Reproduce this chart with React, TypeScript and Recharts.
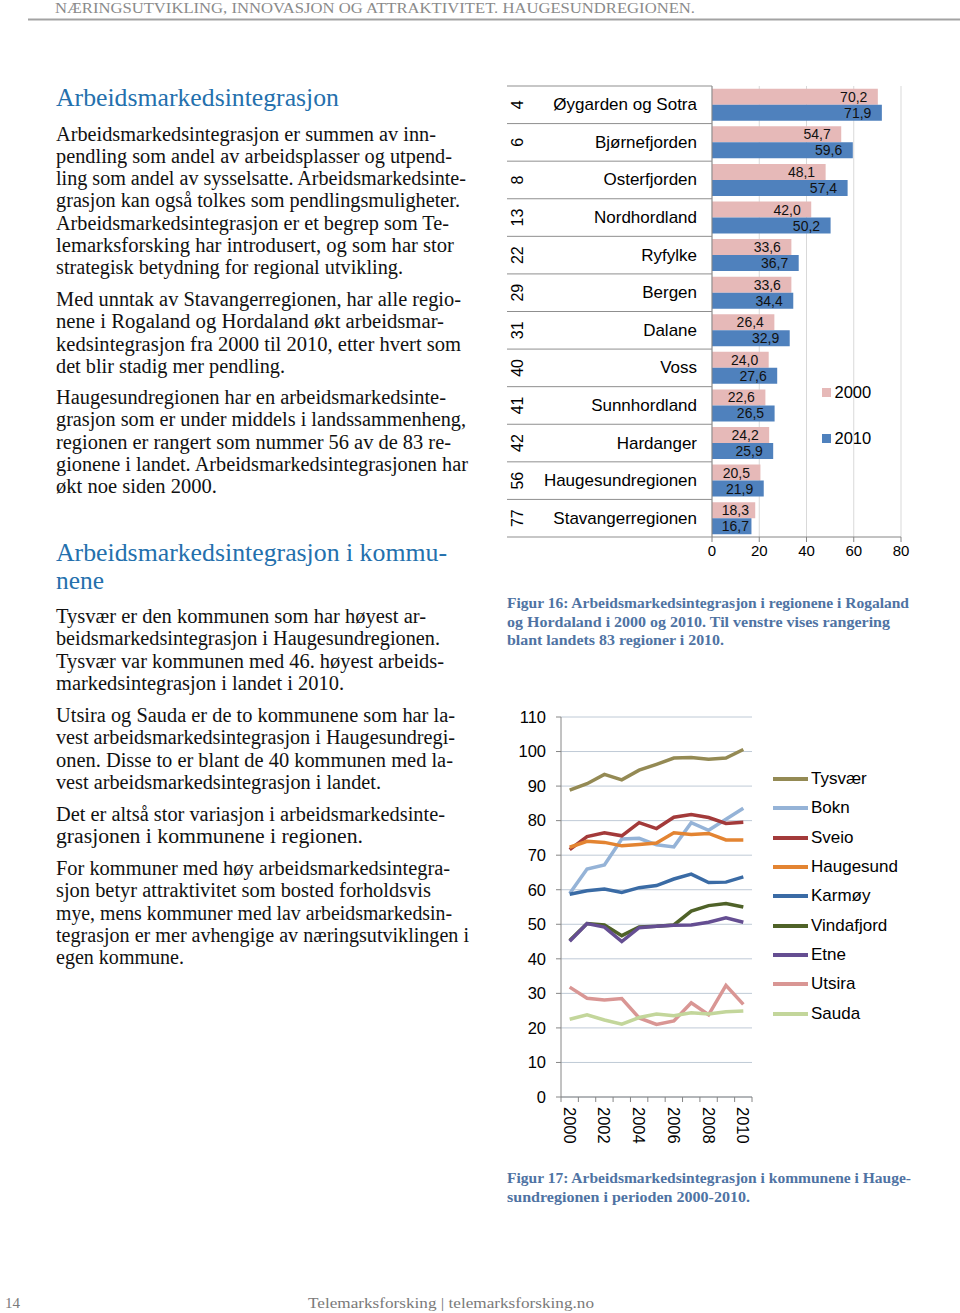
import React from "react";
import {
  BarChart,
  Bar,
  XAxis,
  YAxis,
  CartesianGrid,
  LabelList,
  Legend,
  LineChart,
  Line,
} from "recharts";

// ---------- Figure 16 data ----------
const regionNames = [
  "Øygarden og Sotra",
  "Bjørnefjorden",
  "Osterfjorden",
  "Nordhordland",
  "Ryfylke",
  "Bergen",
  "Dalane",
  "Voss",
  "Sunnhordland",
  "Hardanger",
  "Haugesundregionen",
  "Stavangerregionen",
];
const regionRanks = [4, 6, 8, 13, 22, 29, 31, 40, 41, 42, 56, 77];
const values2000 = [70.2, 54.7, 48.1, 42.0, 33.6, 33.6, 26.4, 24.0, 22.6, 24.2, 20.5, 18.3];
const values2010 = [71.9, 59.6, 57.4, 50.2, 36.7, 34.4, 32.9, 27.6, 26.5, 25.9, 21.9, 16.7];
const barTicks = [0, 20, 40, 60, 80];

// ---------- Figure 17 data ----------
const years = [2000, 2001, 2002, 2003, 2004, 2005, 2006, 2007, 2008, 2009, 2010];
const tysvaer = [88.8, 90.7, 93.4, 91.8, 94.6, 96.3, 98.1, 98.3, 97.8, 98.1, 100.6];
const bokn = [58.9, 66.0, 67.2, 74.7, 74.9, 73.0, 72.4, 79.4, 77.2, 80.4, 83.6];
const sveio = [71.6, 75.4, 76.5, 75.6, 79.4, 77.7, 81.0, 81.8, 80.9, 79.2, 79.5];
const haugesund = [72.3, 74.0, 73.7, 72.7, 73.1, 73.5, 76.5, 76.0, 76.3, 74.4, 74.4];
const karmoy = [58.7, 59.7, 60.2, 59.2, 60.6, 61.2, 63.1, 64.5, 62.1, 62.2, 63.7];
const vindafjord = [45.3, 50.2, 49.8, 46.7, 49.2, 49.4, 49.8, 53.8, 55.4, 56.0, 55.0];
const etne = [45.1, 50.2, 49.2, 45.0, 49.0, 49.4, 49.7, 49.8, 50.6, 51.9, 50.6];
const utsira = [31.8, 28.6, 28.1, 28.5, 22.9, 21.0, 22.0, 27.3, 23.8, 32.3, 26.8];
const sauda = [22.5, 23.8, 22.3, 21.1, 23.0, 24.0, 23.5, 24.4, 24.0, 24.7, 24.9];
const lineTicks = [0, 10, 20, 30, 40, 50, 60, 70, 80, 90, 100, 110];

const seriesDefs = [
  { key: "Tysvær", values: tysvaer, color: "#948A54" },
  { key: "Bokn", values: bokn, color: "#95B3D7" },
  { key: "Sveio", values: sveio, color: "#A33A3A" },
  { key: "Haugesund", values: haugesund, color: "#E38432" },
  { key: "Karmøy", values: karmoy, color: "#3A6BA5" },
  { key: "Vindafjord", values: vindafjord, color: "#4F6228" },
  { key: "Etne", values: etne, color: "#654E92" },
  { key: "Utsira", values: utsira, color: "#D99694" },
  { key: "Sauda", values: sauda, color: "#C3D69B" },
];
const seriesOrder = seriesDefs.map((s) => s.key);

const barData = regionNames.map((name, i) => ({
  name,
  v2000: values2000[i],
  v2010: values2010[i],
}));

const lineData = years.map((year, i) => {
  const row: any = { year };
  seriesDefs.forEach((s) => (row[s.key] = s.values[i]));
  return row;
});

// ---------- page text ----------
const headerText = "NÆRINGSUTVIKLING, INNOVASJON OG ATTRAKTIVITET. HAUGESUNDREGIONEN.";
const heading1 = "Arbeidsmarkedsintegrasjon";
const heading2 = ["Arbeidsmarkedsintegrasjon i kommu-", "nene"];

type Para = { y: number; lines: [string, number][] };
const paragraphs: Para[] = [
  {
    y: 140.5,
    lines: [
      ["Arbeidsmarkedsintegrasjon er summen av inn-", 436],
      ["pendling som andel av arbeidsplasser og utpend-", 452],
      ["ling som andel av sysselsatte. Arbeidsmarkedsinte-", 466],
      ["grasjon kan også tolkes som pendlingsmuligheter.", 460],
      ["Arbeidsmarkedsintegrasjon er et begrep som Te-", 449],
      ["lemarksforsking har introdusert, og som har stor", 454],
      ["strategisk betydning for regional utvikling.", 403],
    ],
  },
  {
    y: 306,
    lines: [
      ["Med unntak av Stavangerregionen, har alle regio-", 461],
      ["nene i Rogaland og Hordaland økt arbeidsmar-", 444],
      ["kedsintegrasjon fra 2000 til 2010, etter hvert som", 461],
      ["det blir stadig mer pendling.", 285],
    ],
  },
  {
    y: 404,
    lines: [
      ["Haugesundregionen har en arbeidsmarkedsinte-", 446],
      ["grasjon som er under middels i landssammenheng,", 466],
      ["regionen er rangert som nummer 56 av de 83 re-", 451],
      ["gionene i landet. Arbeidsmarkedsintegrasjonen har", 468],
      ["økt noe siden 2000.", 217],
    ],
  },
  {
    y: 623,
    lines: [
      ["Tysvær er den kommunen som har høyest ar-", 426],
      ["beidsmarkedsintegrasjon i Haugesundregionen.", 440],
      ["Tysvær var kommunen med 46. høyest arbeids-", 444],
      ["markedsintegrasjon i landet i 2010.", 344],
    ],
  },
  {
    y: 722,
    lines: [
      ["Utsira og Sauda er de to kommunene som har la-", 455],
      ["vest arbeidsmarkedsintegrasjon i Haugesundregi-", 455],
      ["onen. Disse to er blant de 40 kommunen med la-", 453],
      ["vest arbeidsmarkedsintegrasjon i landet.", 381],
    ],
  },
  {
    y: 821,
    lines: [
      ["Det er altså stor variasjon i arbeidsmarkedsinte-", 445],
      ["grasjonen i kommunene i regionen.", 363],
    ],
  },
  {
    y: 875,
    lines: [
      ["For kommuner med høy arbeidsmarkedsintegra-", 450],
      ["sjon betyr attraktivitet som bosted forholdsvis", 431],
      ["mye, mens kommuner med lav arbeidsmarkedsin-", 452],
      ["tegrasjon er mer avhengige av næringsutviklingen i", 469],
      ["egen kommune.", 184],
    ],
  },
];

const caption16: [string, number][] = [
  ["Figur 16: Arbeidsmarkedsintegrasjon i regionene i Rogaland", 909],
  ["og Hordaland i 2000 og 2010. Til venstre vises rangering", 890],
  ["blant landets 83 regioner i 2010.", 724],
];
const caption17: [string, number][] = [
  ["Figur 17: Arbeidsmarkedsintegrasjon i kommunene i Hauge-", 911],
  ["sundregionen i perioden 2000-2010.", 750],
];

const SERIF = "'Liberation Serif', 'DejaVu Serif', serif";
const SANS = "'Liberation Sans', Arial, sans-serif";
const LINE_GAP = 22.3;
const TEXT_X = 56;

const fmt = (v: number) => v.toFixed(1).replace(".", ",");

// ---------- Figure 16 geometry ----------
const B_W = 440;
const B_H = 495;
const B_MARGIN = { top: 6, right: 39, bottom: 0, left: 7 };
const B_YAXIS_W = 205;
const B_XAXIS_H = 38;
const B_PLOT_H = B_H - B_MARGIN.top - B_MARGIN.bottom - B_XAXIS_H;
const B_BAND = B_PLOT_H / regionNames.length;

const RegionTick = (props: any) => {
  const { y, payload } = props;
  const idx = regionNames.indexOf(payload.value);
  const left = B_MARGIN.left;
  const right = B_MARGIN.left + B_YAXIS_W;
  const top = y - B_BAND / 2;
  const rankX = left + 10.5;
  return (
    <g>
      <line x1={left} x2={right} y1={top} y2={top} stroke="#8f8f8f" strokeWidth={1} />
      {idx === regionNames.length - 1 && (
        <line x1={left} x2={right} y1={y + B_BAND / 2} y2={y + B_BAND / 2} stroke="#8f8f8f" strokeWidth={1} />
      )}
      <text
        x={right - 15}
        y={y}
        textAnchor="end"
        dominantBaseline="central"
        fontSize={17}
        fontFamily={SANS}
        fill="#000"
      >
        {payload.value}
      </text>
      <text
        x={rankX}
        y={y}
        transform={`rotate(-90 ${rankX} ${y})`}
        textAnchor="middle"
        dominantBaseline="central"
        fontSize={16}
        fontFamily={SANS}
        fill="#000"
      >
        {regionRanks[idx]}
      </text>
    </g>
  );
};

const BarValueLabel = (props: any) => {
  const { x, y, width, height, value } = props;
  const end = Math.max(x + width - 10.5, x + 37);
  return (
    <text
      x={end}
      y={y + height / 2}
      textAnchor="end"
      dominantBaseline="central"
      fontSize={14}
      fontFamily={SANS}
      fill="#111"
    >
      {fmt(value)}
    </text>
  );
};

const BarLegendContent = (props: any) => {
  const { payload } = props;
  return (
    <div style={{ position: "relative", width: 80, height: 80, fontFamily: SANS, fontSize: 16.5, color: "#000" }}>
      {(payload || []).map((p: any, i: number) => (
        <div
          key={p.value}
          style={{ position: "absolute", left: 0, top: i * 46, height: 24, display: "flex", alignItems: "center" }}
        >
          <span style={{ display: "inline-block", width: 8.5, height: 9, background: p.color, marginRight: 4 }} />
          <span>{p.value}</span>
        </div>
      ))}
    </div>
  );
};

// ---------- Figure 17 geometry ----------
const L_W = 440;
const L_H = 452;
const L_MARGIN = { top: 17, right: 188, bottom: 0, left: 0 };
const L_YAXIS_W = 61;
const L_XAXIS_H = 55;
const L_PLOT_W = L_W - L_MARGIN.left - L_MARGIN.right - L_YAXIS_W;
const L_BAND = L_PLOT_W / years.length;

const YearTick = (props: any) => {
  const { x, y, payload } = props;
  const i = years.indexOf(Number(payload.value));
  const labelY = y + 10;
  return (
    <g>
      <line x1={x - L_BAND / 2} x2={x - L_BAND / 2} y1={y} y2={y + 5} stroke="#868686" />
      {i === years.length - 1 && (
        <line x1={x + L_BAND / 2} x2={x + L_BAND / 2} y1={y} y2={y + 5} stroke="#868686" />
      )}
      {i % 2 === 0 && (
        <text
          x={x}
          y={labelY}
          transform={`rotate(90 ${x} ${labelY})`}
          textAnchor="start"
          dominantBaseline="central"
          fontSize={16.5}
          fontFamily={SANS}
          fill="#000"
        >
          {payload.value}
        </text>
      )}
    </g>
  );
};

const LineLegendContent = (props: any) => {
  const items = [...(props.payload || [])].sort(
    (a: any, b: any) => seriesOrder.indexOf(a.value) - seriesOrder.indexOf(b.value)
  );
  return (
    <div style={{ position: "relative", width: 160, height: 270, fontFamily: SANS, fontSize: 17, color: "#000" }}>
      {items.map((p: any, i: number) => (
        <div
          key={p.value}
          style={{ position: "absolute", left: 0, top: i * 29.3, height: 29.3, display: "flex", alignItems: "center" }}
        >
          <span style={{ display: "inline-block", width: 35, height: 4, background: p.color, marginRight: 3 }} />
          <span>{p.value}</span>
        </div>
      ))}
    </div>
  );
};

const PageText = () => (
  <svg width={960} height={1313} style={{ position: "absolute", left: 0, top: 0 }}>
    {/* header */}
    <text x={55} y={13} fontFamily={SERIF} fontSize={14} fill="#8a8a8a" textLength={640} lengthAdjust="spacingAndGlyphs">
      {headerText}
    </text>
    <line x1={28} x2={960} y1={19.5} y2={19.5} stroke="#a3a3a3" strokeWidth={2} />

    {/* headings */}
    <text x={TEXT_X} y={106} fontFamily={SERIF} fontSize={26} fill="#2470AD" textLength={283} lengthAdjust="spacingAndGlyphs">
      {heading1}
    </text>
    <text x={TEXT_X} y={561} fontFamily={SERIF} fontSize={26} fill="#2470AD" textLength={391} lengthAdjust="spacingAndGlyphs">
      {heading2[0]}
    </text>
    <text x={TEXT_X} y={589} fontFamily={SERIF} fontSize={26} fill="#2470AD" textLength={48} lengthAdjust="spacingAndGlyphs">
      {heading2[1]}
    </text>

    {/* body paragraphs */}
    {paragraphs.map((p, pi) =>
      p.lines.map(([t, end], li) => (
        <text
          key={`${pi}-${li}`}
          x={TEXT_X}
          y={p.y + li * LINE_GAP}
          fontFamily={SERIF}
          fontSize={20}
          fill="#111"
          textLength={end - TEXT_X}
          lengthAdjust="spacingAndGlyphs"
        >
          {t}
        </text>
      ))
    )}

    {/* captions */}
    {caption16.map(([t, end], i) => (
      <text
        key={`c16-${i}`}
        x={507}
        y={608 + i * 18.7}
        fontFamily={SERIF}
        fontSize={15.5}
        fontWeight="bold"
        fill="#4F73A3"
        textLength={end - 507}
        lengthAdjust="spacingAndGlyphs"
      >
        {t}
      </text>
    ))}
    {caption17.map(([t, end], i) => (
      <text
        key={`c17-${i}`}
        x={507}
        y={1183 + i * 18.7}
        fontFamily={SERIF}
        fontSize={15.5}
        fontWeight="bold"
        fill="#4F73A3"
        textLength={end - 507}
        lengthAdjust="spacingAndGlyphs"
      >
        {t}
      </text>
    ))}

    {/* footer */}
    <text x={5} y={1308} fontFamily={SERIF} fontSize={15} fill="#7a7a7a">
      14
    </text>
    <text x={308} y={1308} fontFamily={SERIF} fontSize={15} fill="#7a7a7a" textLength={286} lengthAdjust="spacingAndGlyphs">
      Telemarksforsking | telemarksforsking.no
    </text>
  </svg>
);

export default function App() {
  return (
    <div style={{ position: "absolute", left: 0, top: 0, width: 960, height: 1313, background: "#fff", overflow: "hidden" }}>
      <PageText />

      {/* Figure 16 */}
      <div style={{ position: "absolute", left: 500, top: 80, width: B_W, height: B_H }}>
        <BarChart
          width={B_W}
          height={B_H}
          data={barData}
          layout="vertical"
          margin={B_MARGIN}
          barCategoryGap="7.4%"
          barGap={0}
        >
          <CartesianGrid horizontal={false} stroke="#d9d9d9" />
          <XAxis
            type="number"
            domain={[0, 80]}
            ticks={barTicks}
            height={B_XAXIS_H}
            tickSize={5}
            tickMargin={3}
            axisLine={{ stroke: "#868686" }}
            tickLine={{ stroke: "#868686" }}
            tick={{ fontSize: 15, fill: "#000", fontFamily: SANS }}
          />
          <YAxis
            type="category"
            dataKey="name"
            width={B_YAXIS_W}
            axisLine={{ stroke: "#868686" }}
            tickLine={false}
            interval={0}
            tick={<RegionTick />}
          />
          <Legend
            layout="vertical"
            align="center"
            verticalAlign="middle"
            wrapperStyle={{ left: 322, top: 300, width: 80 }}
            content={<BarLegendContent />}
          />
          <Bar dataKey="v2000" name="2000" fill="#E6B9B8" isAnimationActive={false}>
            <LabelList dataKey="v2000" content={<BarValueLabel />} />
          </Bar>
          <Bar dataKey="v2010" name="2010" fill="#4F81BD" isAnimationActive={false}>
            <LabelList dataKey="v2010" content={<BarValueLabel />} />
          </Bar>
        </BarChart>
      </div>

      {/* Figure 17 */}
      <div style={{ position: "absolute", left: 500, top: 700, width: L_W, height: L_H }}>
        <LineChart width={L_W} height={L_H} data={lineData} margin={L_MARGIN}>
          <CartesianGrid vertical={false} stroke="#BFCAD6" />
          <XAxis
            dataKey="year"
            height={L_XAXIS_H}
            interval={0}
            padding={{ left: L_BAND / 2, right: L_BAND / 2 }}
            tickSize={0}
            tickMargin={0}
            tickLine={false}
            axisLine={{ stroke: "#868686" }}
            tick={<YearTick />}
          />
          <YAxis
            domain={[0, 110]}
            ticks={lineTicks}
            width={L_YAXIS_W}
            tickSize={5}
            tickMargin={10}
            axisLine={{ stroke: "#868686" }}
            tickLine={{ stroke: "#868686" }}
            tick={{ fontSize: 16.5, fill: "#000", fontFamily: SANS }}
            interval={0}
          />
          <Legend
            layout="vertical"
            align="center"
            verticalAlign="middle"
            wrapperStyle={{ left: 273, top: 64.5, width: 160 }}
            content={<LineLegendContent />}
          />
          {seriesDefs.map((s) => (
            <Line
              key={s.key}
              type="linear"
              dataKey={s.key}
              stroke={s.color}
              strokeWidth={3.5}
              dot={false}
              activeDot={false}
              isAnimationActive={false}
            />
          ))}
        </LineChart>
      </div>
    </div>
  );
}
